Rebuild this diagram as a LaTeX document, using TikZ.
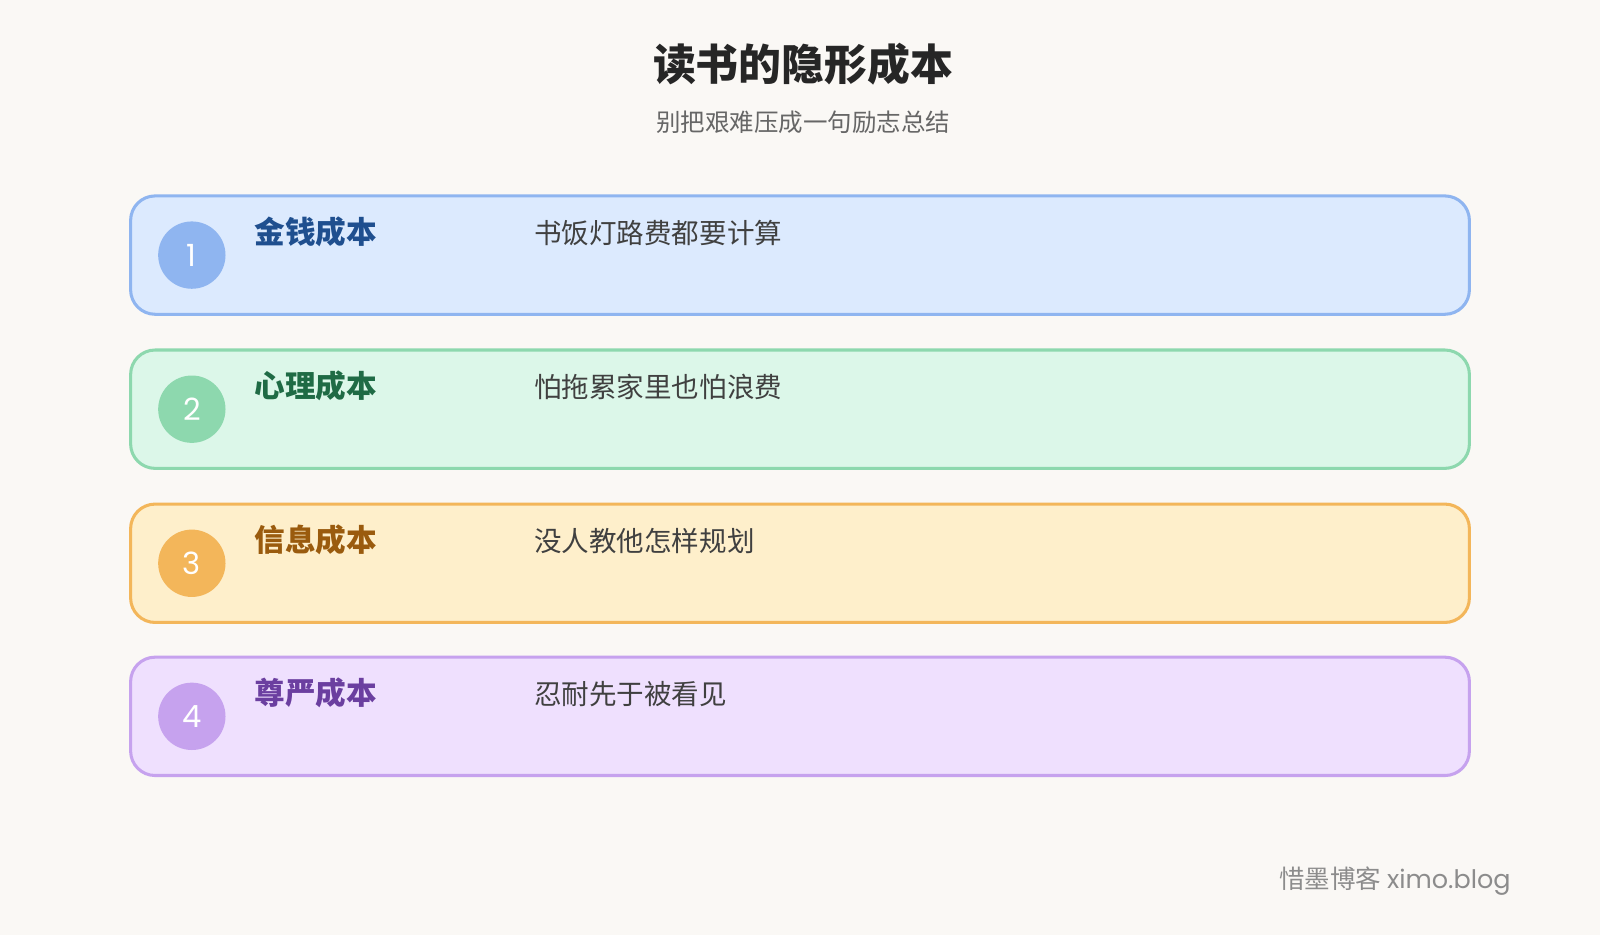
\documentclass[tikz,border=0pt]{standalone}
\usepackage{fontspec}
\setmainfont{Noto Sans CJK SC}
\newfontfamily\numfont{Poppins}
\usetikzlibrary{positioning}
\definecolor{bgc}{HTML}{FAF8F5}
\definecolor{fillA}{HTML}{DCEAFE}\definecolor{lineA}{HTML}{8FB5F0}\definecolor{textA}{HTML}{1F4F8F}
\definecolor{fillB}{HTML}{DCF7E9}\definecolor{lineB}{HTML}{8DD8AE}\definecolor{textB}{HTML}{1F6B45}
\definecolor{fillC}{HTML}{FEEFCB}\definecolor{lineC}{HTML}{F3B65A}\definecolor{textC}{HTML}{9A5B0E}
\definecolor{fillD}{HTML}{EFE0FE}\definecolor{lineD}{HTML}{C6A2EE}\definecolor{textD}{HTML}{6B3FA0}
\begin{document}
\begin{tikzpicture}[x=1pt,y=-1pt,
    card/.style={rounded corners=24pt,line width=3pt},
    badge/.style={circle,minimum size=66pt,inner sep=0pt,text=white,font=\numfont\fontsize{30}{30}\selectfont},
    costname/.style={anchor=west,font=\bfseries\fontsize{30}{30}\selectfont},
    costnote/.style={anchor=west,text=black!75,font=\fontsize{27}{27}\selectfont}
  ]
  \useasboundingbox (0,0) rectangle (1568,916.3);
  \fill[bgc] (0,0) rectangle (1568,916.3);
  \node[font=\bfseries\fontsize{42}{42}\selectfont,text=black!85] (title) at (787,63) {读书的隐形成本};
  \node[font=\fontsize{24}{24}\selectfont,text=black!60] (subtitle) at (787,120) {别把艰难压成一句励志总结};
  \foreach \i/\y/\c/\name/\note in {1/192/A/金钱成本/书饭灯路费都要计算,
                                   2/343/B/心理成本/怕拖累家里也怕浪费,
                                   3/494/C/信息成本/没人教他怎样规划,
                                   4/644/D/尊严成本/忍耐先于被看见}{
    \draw[card,fill=fill\c,draw=line\c] (128,\y) rectangle (1440,\y+116);
    \node[badge,fill=line\c] (badge\i) at (188,\y+58) {\i};
    \node[costname,text=text\c] (name\i) at (246,\y+35) {\name};
    \node[costnote] (note\i) at (520,\y+36) {\note};
  }
  \node[anchor=east,text=black!45,font=\fontsize{25}{25}\selectfont] (footer) at (1484,863) {惜墨博客 {\numfont ximo.blog}};
\end{tikzpicture}
\end{document}
